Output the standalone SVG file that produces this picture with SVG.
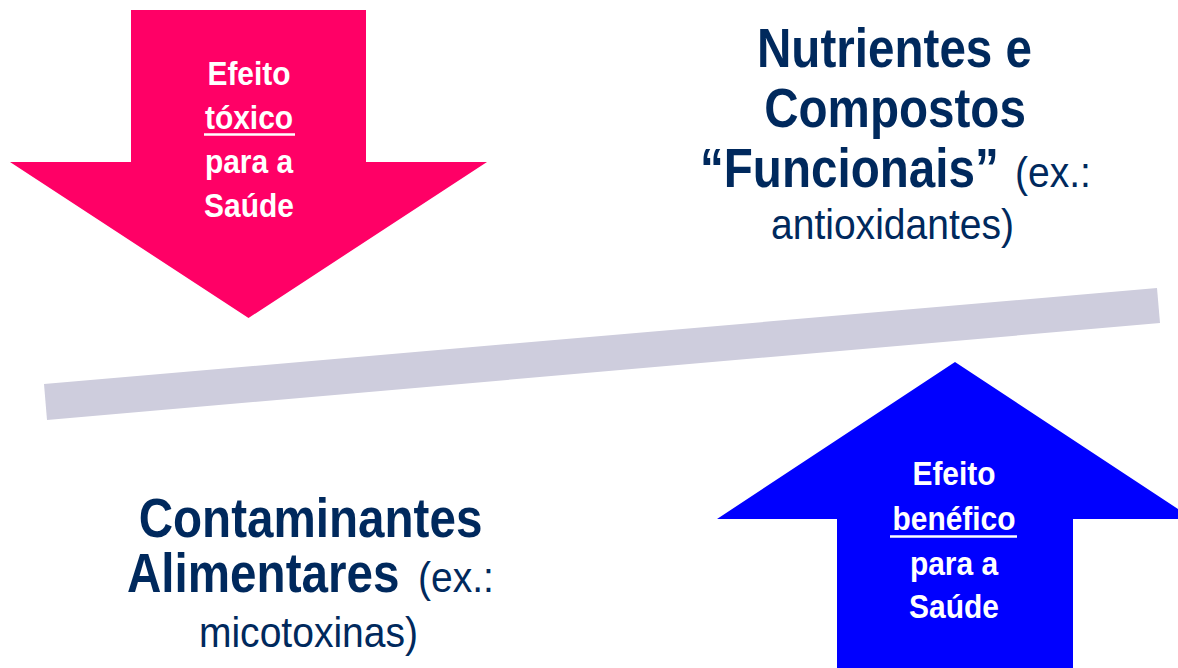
<svg xmlns="http://www.w3.org/2000/svg" width="1178" height="668" viewBox="0 0 1178 668">
  <style>
    .wb { font-family: "Liberation Sans", Arial, sans-serif; font-weight: bold; font-size: 34px; fill: #FFFFFF; text-anchor: middle; }
    .nb { font-family: "Liberation Sans", Arial, sans-serif; font-weight: bold; font-size: 56px; fill: #00295D; }
    .nr { font-family: "Liberation Sans", Arial, sans-serif; font-weight: normal; font-size: 42px; fill: #00295D; }
    .mid { text-anchor: middle; }
    .ul { stroke: #FFFFFF; stroke-width: 2.5; }
  </style>
  <rect width="1178" height="668" fill="#FFFFFF"/>

  <g id="beam">
    <polygon points="44,384 1157,288 1160,323 47,420" fill="#CECDDD"/>
  </g>

  <g id="toxic-arrow">
    <path d="M131,10 H366 V162 H487 L248.5,318 L10,162 H131 Z" fill="#FF0066"/>
    <text class="wb" transform="translate(249,85) scale(0.88,1)">Efeito</text>
    <text class="wb" transform="translate(249,128.5) scale(0.88,1)">tóxico</text>
    <line class="ul" x1="204" y1="134.5" x2="295" y2="134.5"/>
    <text class="wb" transform="translate(249,173) scale(0.88,1)">para a</text>
    <text class="wb" transform="translate(249,217) scale(0.88,1)">Saúde</text>
  </g>

  <g id="beneficial-arrow">
    <path d="M955,362 L1193,519 H1073 V668 H837 V519 H717 Z" fill="#0000FF"/>
    <text class="wb" transform="translate(954,485) scale(0.88,1)">Efeito</text>
    <text class="wb" transform="translate(954,530) scale(0.88,1)">benéfico</text>
    <line class="ul" x1="890" y1="536.5" x2="1017" y2="536.5"/>
    <text class="wb" transform="translate(954,575) scale(0.88,1)">para a</text>
    <text class="wb" transform="translate(954,618) scale(0.88,1)">Saúde</text>
  </g>

  <g id="nutrients-label">
    <text class="nb mid" transform="translate(894.5,66.5) scale(0.85,1)">Nutrientes e</text>
    <text class="nb mid" transform="translate(895,126.5) scale(0.85,1)">Compostos</text>
    <text class="nb" transform="translate(700,187) scale(0.85,1)">“Funcionais”</text>
    <text class="nr" transform="translate(1015,187) scale(0.93,1)">(ex.:</text>
    <text class="nr mid" transform="translate(892.5,239) scale(0.93,1)">antioxidantes)</text>
  </g>

  <g id="contaminants-label">
    <text class="nb mid" transform="translate(310.5,537) scale(0.85,1)">Contaminantes</text>
    <text class="nb" transform="translate(127,592) scale(0.85,1)">Alimentares</text>
    <text class="nr" transform="translate(418,592) scale(0.93,1)">(ex.:</text>
    <text class="nr mid" transform="translate(308.5,646.5) scale(0.93,1)">micotoxinas)</text>
  </g>
</svg>
